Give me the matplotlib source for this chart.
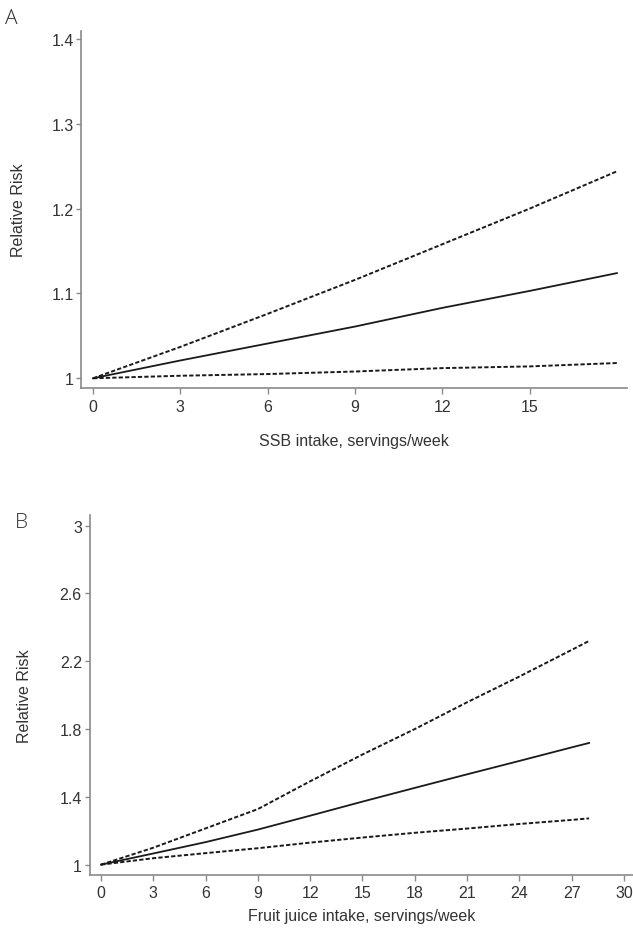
import matplotlib
matplotlib.use("Agg")
import matplotlib.pyplot as plt

plt.rcParams['font.family'] = ['Liberation Sans', 'DejaVu Sans']

# Panel A: SSB intake
ssb_x = [0, 3, 6, 9, 12, 15, 18]
ssb_rr = [1.0, 1.021, 1.041, 1.061, 1.083, 1.103, 1.124]
ssb_upper = [1.0, 1.037, 1.076, 1.116, 1.158, 1.200, 1.244]
ssb_lower = [1.0, 1.003, 1.005, 1.008, 1.012, 1.014, 1.018]
ssb_xticks = [0, 3, 6, 9, 12, 15]
ssb_yticks = [1.0, 1.1, 1.2, 1.3, 1.4]
ssb_yticklabels = ["1", "1.1", "1.2", "1.3", "1.4"]

# Panel B: fruit juice intake
fj_x = [0, 3, 6, 9, 12, 15, 18, 21, 24, 27, 28]
fj_rr = [1.0, 1.066, 1.133, 1.207, 1.289, 1.372, 1.453, 1.533, 1.612, 1.692, 1.718]
fj_upper = [1.0, 1.10, 1.214, 1.328, 1.492, 1.65, 1.80, 1.958, 2.11, 2.267, 2.32]
fj_lower = [1.0, 1.038, 1.068, 1.097, 1.13, 1.16, 1.188, 1.213, 1.24, 1.264, 1.273]
fj_xticks = [0, 3, 6, 9, 12, 15, 18, 21, 24, 27, 30]
fj_yticks = [1.0, 1.4, 1.8, 2.2, 2.6, 3.0]
fj_yticklabels = ["1", "1.4", "1.8", "2.2", "2.6", "3"]

W, H = 633, 937
fig = plt.figure(figsize=(W / 100, H / 100), dpi=100)

def px_axes(left, top, right, bottom):
    return fig.add_axes([left / W, 1 - bottom / H, (right - left) / W, (bottom - top) / H])

spine_col = '#8a8a8a'
text_col = '#333333'
FS = 11.5

def style(ax, xlim, ylim, xticks, yticks, yticklabels, xlabel, xlab_y, ylab_x):
    ax.set_xlim(*xlim)
    ax.set_ylim(*ylim)
    for s in ['top', 'right']:
        ax.spines[s].set_visible(False)
    for s in ['left', 'bottom']:
        ax.spines[s].set_color(spine_col)
        ax.spines[s].set_linewidth(1.2)
    ax.set_xticks(xticks)
    ax.set_xticklabels([str(t) for t in xticks])
    ax.set_yticks(yticks)
    ax.set_yticklabels(yticklabels)
    ax.tick_params(axis='x', length=4.5, width=1, color=spine_col, labelsize=FS,
                   labelcolor=text_col, pad=3)
    ax.tick_params(axis='y', length=3.5, width=1, color=spine_col, labelsize=FS,
                   labelcolor=text_col, pad=2)
    ax.set_xlabel(xlabel, fontsize=FS, color=text_col, va='center')
    ax.xaxis.set_label_coords(0.5, xlab_y)
    ax.set_ylabel("Relative Risk", fontsize=FS, color=text_col, va='center')
    ax.yaxis.set_label_coords(ylab_x, 0.5)

def draw(ax, x, rr, up, lo):
    ax.plot(x, up, color='#1a1a1a', lw=1.4, linestyle=(0, (2.2, 1.1)))
    ax.plot(x, lo, color='#1a1a1a', lw=1.4, linestyle=(0, (2.2, 1.1)))
    ax.plot(x, rr, color='#1a1a1a', lw=1.3, linestyle='-')

axA = px_axes(81.5, 31.7, 626.5, 389.3)
draw(axA, ssb_x, ssb_rr, ssb_upper, ssb_lower)
style(axA, (-0.395, 18.33), (0.9882, 1.4098), ssb_xticks, ssb_yticks, ssb_yticklabels,
      "SSB intake, servings/week", -0.1465, -0.1165)

axB = px_axes(89.5, 515.5, 633, 876)
draw(axB, fj_x, fj_rr, fj_upper, fj_lower)
style(axB, (-0.66, 30.52), (0.939, 3.066), fj_xticks, fj_yticks, fj_yticklabels,
      "Fruit juice intake, servings/week", -0.1137, -0.1187)

fig.text(11.7 / W, 1 - 19.3 / H, "A", fontsize=15, color='#333333', ha='center', va='center',
         family=['Open Sans', 'DejaVu Sans'], fontweight='light')
fig.text(21.7 / W, 1 - 523.3 / H, "B", fontsize=15, color='#333333', ha='center', va='center',
         family=['Open Sans', 'DejaVu Sans'], fontweight='light')

fig.savefig("out.png", dpi=100)
